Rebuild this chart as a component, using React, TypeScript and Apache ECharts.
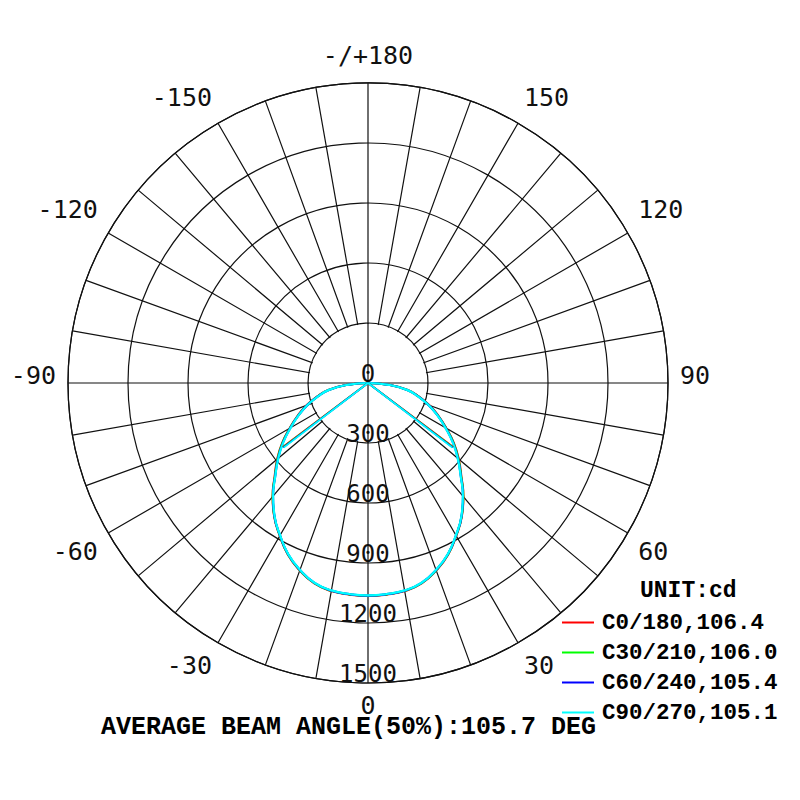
import React, { useEffect, useRef } from "react";
import * as echarts from "echarts";

// gamma angles (deg from nadir) and luminous intensity (cd) per C-plane
const gammaAngles = [0, 5, 10, 15, 20, 25, 30, 35, 40, 45, 50, 55, 60, 65, 70, 75, 80, 85, 90];
const c0_180 = [1065, 1062, 1056, 1037, 997, 947, 882, 817, 742, 660, 592, 524, 452, 388, 327, 264, 202, 106, 0];
const c30_210 = [1064, 1061, 1055, 1036, 996, 946, 881, 816, 741, 658, 590, 522, 450, 386, 325, 262, 200, 105, 0];
const c60_240 = [1063, 1060, 1054, 1035, 995, 945, 880, 815, 739, 656, 587, 519, 448, 384, 323, 260, 199, 104, 0];
const c90_270 = [1062, 1059, 1053, 1034, 994, 944, 879, 814, 738, 655, 585, 517, 446, 383, 322, 259, 198, 103, 0];

const planeNames = ["C0/180,106.4", "C30/210,106.0", "C60/240,105.4", "C90/270,105.1"];
const planeColors = ["#ff0000", "#00ff00", "#0000ff", "#00ffff"];
const beamAngles = [106.4, 106.0, 105.4, 105.1];
const planeValues = [c0_180, c30_210, c60_240, c90_270];

const radialTicks = [0, 300, 600, 900, 1200, 1500];
const angleLabelStep = 30;
const topLabel = "-/+180";
const titleText = "AVERAGE BEAM ANGLE(50%):105.7 DEG";
const unitText = "UNIT:cd";

function curve(values: number[]) {
  const pts: number[][] = [];
  for (let i = gammaAngles.length - 1; i >= 1; i--) pts.push([values[i], 360 - gammaAngles[i]]);
  for (let i = 0; i < gammaAngles.length; i++) pts.push([values[i], gammaAngles[i]]);
  return pts;
}

function beamLine(values: number[], beam: number) {
  const half = values[0] / 2;
  return [
    [half, 360 - beam / 2],
    [0, 0],
    [half, beam / 2],
  ];
}

function angleLabel(v: number) {
  if (v % angleLabelStep !== 0 || v === 360) return "";
  const a = v <= 180 ? v : v - 360;
  const txt = v === 180 ? topLabel : String(a);
  const abs = Math.abs(a);
  const style =
    abs === 0 ? "z" : abs === 90 ? "u7" : abs === 120 ? "u4" : abs >= 150 ? "u3" : "n";
  return `{${style}|${txt}}`;
}

export default function App() {
  const ref = useRef<HTMLDivElement>(null);
  useEffect(() => {
    if (!ref.current) return;
    const chart = echarts.init(ref.current, null, { renderer: "svg" });
    const axisFont = { fontFamily: "DejaVu Sans Mono", fontSize: 24, color: "#111" };
    const monoBold = { fontFamily: "Liberation Mono", fontWeight: "bold" as const, color: "#000" };
    const gridLine = { color: "#111", width: 1.2 };

    const curveSeries = planeNames.map((name, i) => ({
      name,
      type: "line",
      coordinateSystem: "polar",
      data: curve(planeValues[i]),
      showSymbol: false,
      symbol: "none",
      smooth: 0.5,
      z: 3,
      silent: true,
      lineStyle: { color: planeColors[i], width: 2.2 },
      itemStyle: { color: planeColors[i] },
    }));
    const beamSeries = planeNames.map((name, i) => ({
      name,
      type: "line",
      coordinateSystem: "polar",
      data: beamLine(planeValues[i], beamAngles[i]),
      showSymbol: false,
      symbol: "none",
      z: 3,
      silent: true,
      lineStyle: { color: planeColors[i], width: 1.6 },
      itemStyle: { color: planeColors[i] },
    }));

    chart.setOption({
      animation: false,
      backgroundColor: "#fff",
      title: [
        {
          text: titleText,
          left: 101,
          top: 717,
          padding: 0,
          textStyle: { ...monoBold, fontSize: 25, lineHeight: 20 },
        },
        {
          text: unitText,
          left: 640,
          top: 579,
          padding: 0,
          textStyle: { ...monoBold, fontSize: 23 },
        },
      ],
      legend: {
        orient: "vertical",
        left: 562,
        top: 611,
        padding: 0,
        itemWidth: 32,
        itemHeight: 2,
        itemGap: 7,
        icon: "rect",
        data: planeNames,
        textStyle: { ...monoBold, fontSize: 22.5, lineHeight: 22, padding: [0, 0, 0, 3] },
      },
      polar: { center: [368, 383], radius: 300 },
      angleAxis: {
        type: "value",
        min: 0,
        max: 360,
        interval: 10,
        startAngle: 270,
        clockwise: false,
        z: 0,
        axisLine: { show: true, lineStyle: gridLine },
        axisTick: { show: false },
        splitLine: { show: true, lineStyle: gridLine },
        axisLabel: {
          show: true,
          margin: 12,
          ...axisFont,
          fontSize: 25,
          formatter: angleLabel,
          rich: {
            n: { ...axisFont, fontSize: 25 },
            z: { ...axisFont, fontSize: 25, lineHeight: 20 },
            u3: { ...axisFont, fontSize: 25, padding: [0, 0, 3, 0] },
            u4: { ...axisFont, fontSize: 25, padding: [0, 0, 5, 0] },
            u7: { ...axisFont, fontSize: 25, padding: [0, 0, 15, 0] },
          },
        },
      },
      radiusAxis: {
        type: "value",
        min: radialTicks[0],
        max: radialTicks[radialTicks.length - 1],
        interval: radialTicks[1] - radialTicks[0],
        z: 2,
        axisLine: { show: false },
        axisTick: { show: false },
        splitLine: { show: true, lineStyle: gridLine },
        axisLabel: {
          show: true,
          margin: 0,
          align: "center",
          verticalAlign: "bottom",
          lineHeight: 19,
          showMinLabel: true,
          showMaxLabel: true,
          formatter: (v: number) => String(v),
          ...axisFont,
        },
      },
      series: [
        {
          type: "custom",
          coordinateSystem: "polar",
          silent: true,
          z: 1,
          data: [[0, 0]],
          renderItem: (_params: any, api: any) => {
            const c = api.coord([0, 0]);
            const inner = radialTicks[1];
            const pts = [0, 90, 180, 270].map((a) => api.coord([inner, a]));
            const r = Math.hypot(pts[0][0] - c[0], pts[0][1] - c[1]);
            return {
              type: "group",
              children: [
                { type: "circle", shape: { cx: c[0], cy: c[1], r: r - 1 }, style: { fill: "#fff" } },
                {
                  type: "line",
                  shape: { x1: pts[0][0], y1: pts[0][1], x2: pts[2][0], y2: pts[2][1] },
                  style: { stroke: "#111", lineWidth: 1.2 },
                },
                {
                  type: "line",
                  shape: { x1: pts[1][0], y1: pts[1][1], x2: pts[3][0], y2: pts[3][1] },
                  style: { stroke: "#111", lineWidth: 1.2 },
                },
              ],
            };
          },
        },
        ...curveSeries,
        ...beamSeries,
      ],
    } as any);
    return () => chart.dispose();
  }, []);
  return (
    <div
      ref={ref}
      style={{ position: "fixed", left: 0, top: 0, width: 800, height: 800, background: "#fff" }}
    />
  );
}
